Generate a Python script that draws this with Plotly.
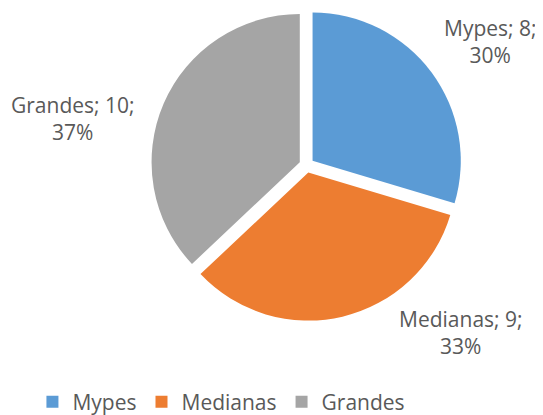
import plotly.graph_objects as go

labels = ["Mypes", "Medianas", "Grandes"]
values = [8, 9, 10]
colors = ["#5B9BD5", "#ED7D31", "#A5A5A5"]

# label placement (paper coords) for the data labels
label_x = [0.889, 0.834, 0.120]
label_y = [0.917, 0.198, 0.727]

total = sum(values)
texts = [f"{l}; {v};<br>{round(100 * v / total)}%" for l, v in zip(labels, values)]

FONT = "Open Sans"

fig = go.Figure()
fig.add_trace(go.Pie(
    labels=labels,
    values=values,
    sort=False,
    direction="clockwise",
    rotation=0,
    pull=[0.05, 0.05, 0.05],
    marker=dict(colors=colors, line=dict(width=0)),
    textinfo="none",
    hoverinfo="label+value+percent",
    domain=dict(x=[0.2562, 0.8436], y=[0.2276, 0.9962]),
))

for t, x, y in zip(texts, label_x, label_y):
    fig.add_annotation(x=x, y=y, xref="paper", yref="paper", text=t,
                       xanchor="center", yanchor="middle",
                       showarrow=False, align="center",
                       font=dict(family=FONT, size=21, color="#595959"))

fig.update_layout(
    width=543, height=415,
    margin=dict(l=0, r=0, t=0, b=0),
    paper_bgcolor="white",
    plot_bgcolor="white",
    showlegend=True,
    legend=dict(orientation="h", x=0.045, xanchor="left", y=0.027, yanchor="middle",
                font=dict(family=FONT, size=21, color="#595959"),
                itemwidth=30, traceorder="normal"),
)

fig.write_html("out.html")
